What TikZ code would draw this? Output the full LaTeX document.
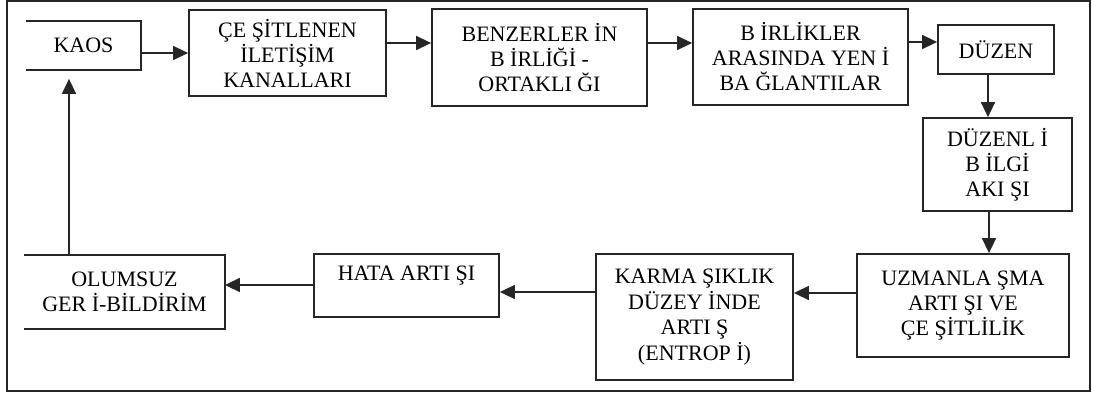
\documentclass[tikz,border=0pt]{standalone}
\usepackage{fontspec}
\setmainfont{Liberation Serif}
\usetikzlibrary{arrows.meta}
\begin{document}
\begin{tikzpicture}[x=1pt,y=-1pt,
  stage/.style={draw=black!85, line width=1.8pt, inner sep=0pt, align=center,
    font=\fontsize{22}{25}\selectfont, text=black},
  openstage/.style={stage, draw=none},
  rim/.style={draw=black!85, line width=1.8pt},
  flow/.style={draw=black!85, line width=1.6pt, -{Triangle[length=15pt,width=14pt]}}
]
\useasboundingbox (0,0) rectangle (1093,398);
\draw[rim] (7,1) rectangle (1090,391);

% upper row
\node[openstage, minimum width=113pt, minimum height=47pt] (kaos) at (83.5,45.5) {KAOS};
\draw[rim] (kaos.north west) -- (kaos.north east) -- (kaos.south east) -- (kaos.south west);
\node[stage, minimum width=197pt, minimum height=86pt] (ce) at (287.5,53)
  {ÇE ŞİTLENEN\\İLETİŞİM\\KANALLARI};
\node[stage, minimum width=215pt, minimum height=97pt] (ben) at (539.5,57.5)
  {BENZERLER İN\\B İRLİĞİ -\\ORTAKLI ĞI};
\node[stage, minimum width=215pt, minimum height=96pt] (bir) at (800.5,57)
  {B İRLİKLER\\ARASINDA YEN İ\\BA ĞLANTILAR};
\node[stage, minimum width=116pt, minimum height=49pt] (duzen) at (996,49.5) {DÜZEN};

% right column
\node[stage, minimum width=149pt, minimum height=93pt] (duzenli) at (997.5,164.5)
  {DÜZENL İ\\B İLGİ\\AKI ŞI};

% lower row
\node[stage, minimum width=212pt, minimum height=103pt] (uzman) at (963,305.5)
  {UZMANLA ŞMA\\ARTI ŞI VE\\ÇE ŞİTLİLİK};
\node[stage, minimum width=197pt, minimum height=126pt] (karma) at (694.5,317)
  {\raisebox{7pt}{\begin{tabular}{@{}c@{}}KARMA ŞIKLIK\\DÜZEY İNDE\\ARTI Ş\\(ENTROP İ)\end{tabular}}};
\node[stage, minimum width=185pt, minimum height=63pt] (hata) at (406.5,285.5)
  {HATA ARTI ŞI\\\mbox{}};
\node[openstage, minimum width=199pt, minimum height=72pt] (olumsuz) at (124.5,292)
  {OLUMSUZ\\GER İ-BİLDİRİM};
\draw[rim] (olumsuz.north west) -- (olumsuz.north east) -- (olumsuz.south east) -- (olumsuz.south west);

% connectors
\draw[flow] (kaos.east |- ce.west) -- (ce.west);
\coordinate (c1) at ([yshift=10pt]ce.east);
\draw[flow] (c1) -- (c1 -| ben.west);
\coordinate (c2) at ([yshift=14.5pt]ben.east);
\draw[flow] (c2) -- (c2 -| bir.west);
\coordinate (c3) at ([yshift=15pt]bir.east);
\draw[flow] (c3) -- (c3 -| duzen.west);
\coordinate (c4) at ([xshift=-8pt]duzen.south);
\draw[flow] (c4) -- (c4 |- duzenli.north);
\coordinate (c5) at ([xshift=-8.5pt]duzenli.south);
\draw[flow] (c5) -- (c5 |- uzman.north);
\coordinate (c6) at ([yshift=12.5pt]uzman.west);
\draw[flow] (c6) -- (c6 -| karma.east);
\coordinate (c7) at ([yshift=25pt]karma.west);
\draw[flow] (c7) -- (c7 -| hata.east);
\coordinate (c9) at ([yshift=0.5pt]hata.west);
\draw[flow] (c9) -- (c9 -| olumsuz.east);
\coordinate (c8) at ([xshift=-55.5pt]olumsuz.north);
\draw[flow, shorten >=9pt] (c8) -- (c8 |- kaos.south);
\end{tikzpicture}
\end{document}
